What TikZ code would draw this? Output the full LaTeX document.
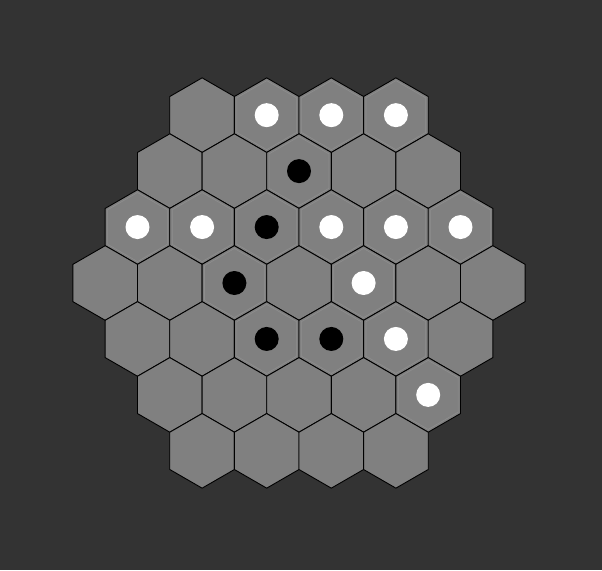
\documentclass[tikz,border=0pt]{standalone}
\usepackage{tikz}
\usetikzlibrary{shapes.geometric}
\definecolor{boardbg}{HTML}{333333}
\definecolor{cellgray}{HTML}{808080}
\definecolor{ringgray}{HTML}{8E8E8E}
\begin{document}
\begin{tikzpicture}[
    x=1pt, y=-1pt,
    cell/.style = {
        regular polygon, regular polygon sides=6,
        shape border rotate=30, minimum size=74.6pt,
        inner sep=0pt, outer sep=0pt,
        draw=black, line width=0.9pt, fill=cellgray
    },
    ring/.style   = {cell, minimum size=69pt, fill=none,
                     draw=ringgray, line width=0.6pt},
    wstone/.style = {circle, fill=white, minimum size=24pt,
                     inner sep=0pt},
    bstone/.style = {wstone, fill=black}
  ]

  %% background
  \fill[boardbg] (0,0) rectangle (602,570);
  \useasboundingbox (0,0) rectangle (602,570);

  %% board, 7 rows
  \foreach \r/\n in {0/4,1/5,2/6,3/7,4/6,5/5,6/4} {
    \pgfmathtruncatemacro\last{\n-1}
    \foreach \i in {0,...,\last}
      \node[cell] (c-\r-\i) at ({299+(\i-\last/2)*64.6}, {283+(\r-3)*55.95}) {};
  }

  %% white stones
  \foreach \c in {0-1,0-2,0-3,2-0,2-1,2-3,2-4,2-5,3-4,4-4,5-4} {
    \node[ring] (r-\c) at (c-\c) {};
    \node[wstone] (w-\c) at (c-\c) {};
  }

  %% black stones
  \foreach \c in {1-2,2-2,3-2,4-2,4-3} {
    \node[ring] (r-\c) at (c-\c) {};
    \node[bstone] (b-\c) at (c-\c) {};
  }

\end{tikzpicture}
\end{document}
